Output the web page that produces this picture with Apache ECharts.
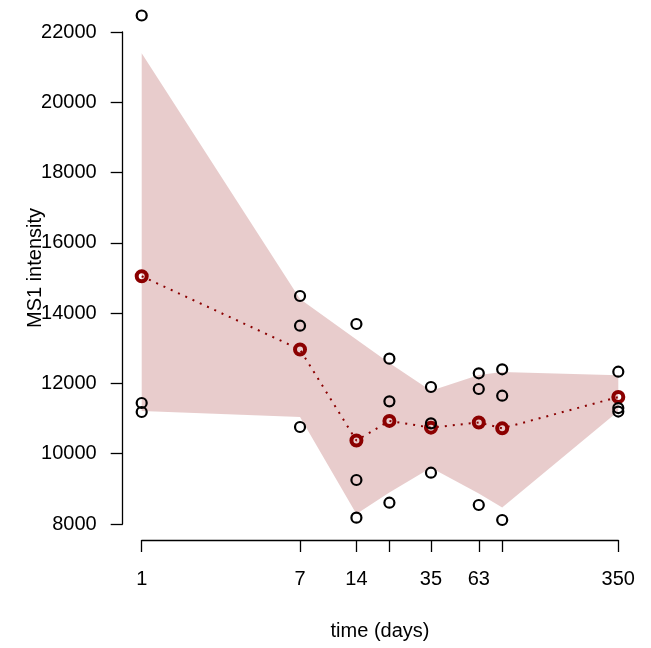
<!DOCTYPE html>
<html>
<head>
<meta charset="utf-8">
<script src="https://cdn.jsdelivr.net/npm/echarts@6/dist/echarts.min.js"></script>
<style>
html,body{margin:0;padding:0;background:#fff;}
#chart{width:651px;height:648px;}
</style>
</head>
<body>
<div id="chart"></div>
<script>
// time points (days)
const days = [1, 7, 14, 21, 35, 63, 84, 350];
// replicate measurements
const rep1 = [22470, 14488, 13691, 12704, 11898, 12288, 12402, 12334];
const rep2 = [11443, 13643, 9252, 11491, 10865, 11841, 11651, 11300];
const rep3 = [11187, 10760, 8180, 8606, 9460, 8541, 8114, 11200];
// mean per time point
const meanVals = [15050, 12964, 10374, 10934, 10741, 10890, 10722, 11613];
// band (upper / lower)
const bandUpper = [21394, 14404, 13247, 12583, 11795, 12243, 12327, 12236];
const bandLower = [11215, 11048, 8287, 8895, 9600, 8871, 8468, 11210];
// axis ticks
const xTickValues = [1, 7, 14, 21, 35, 63, 84, 350];
const xLabelValues = [1, 7, 14, 35, 63, 350];
const yMin = 8000, yMax = 22000, yStep = 2000;

const FONT = 'Liberation Sans, Arial, sans-serif';
const FS = 20;
const chart = echarts.init(document.getElementById('chart'), null, {renderer: 'canvas'});

const repPoints = [];
[rep1, rep2, rep3].forEach(r => r.forEach((v, i) => repPoints.push([days[i], v])));

const option = {
  animation: false,
  backgroundColor: '#fff',
  grid: {left: 141.7, right: 32.7, top: 32, bottom: 124, containLabel: false},
  xAxis: {
    type: 'log', logBase: 10, min: 1, max: 350,
    offset: 16,
    axisLine: {show: true, lineStyle: {color: '#000', width: 1.3}},
    axisTick: {show: true, length: 12, lineStyle: {color: '#000', width: 1.3}, customValues: xTickValues},
    axisLabel: {show: true, margin: 29, color: '#000', fontSize: FS, fontFamily: FONT, customValues: xLabelValues,
      formatter: v => String(Math.round(v))},
    splitLine: {show: false},
    minorTick: {show: false}
  },
  yAxis: {
    type: 'value', min: yMin, max: yMax, interval: yStep,
    offset: 19,
    axisLine: {show: true, lineStyle: {color: '#000', width: 1.3}},
    axisTick: {show: true, length: 12, lineStyle: {color: '#000', width: 1.3}},
    axisLabel: {show: true, margin: 26, color: '#000', fontSize: FS, fontFamily: FONT,
      formatter: v => String(Math.round(v))},
    splitLine: {show: false}
  },
  graphic: [
    {type: 'text', style: {text: 'time (days)', fill: '#000', font: FS + 'px ' + FONT, textAlign: 'center', textVerticalAlign: 'middle'}, x: 380, y: 631},
    {type: 'text', style: {text: 'MS1 intensity', fill: '#000', font: FS + 'px ' + FONT, textAlign: 'center', textVerticalAlign: 'middle'}, x: 35, y: 268, rotation: Math.PI / 2}
  ],
  series: [
    {
      type: 'custom',
      clip: false,
      silent: true,
      z: 1,
      data: [0],
      renderItem: function (params, api) {
        const pts = [];
        for (let i = 0; i < days.length; i++) pts.push(api.coord([days[i], bandUpper[i]]));
        for (let i = days.length - 1; i >= 0; i--) pts.push(api.coord([days[i], bandLower[i]]));
        return {type: 'polygon', shape: {points: pts}, style: {fill: 'rgba(139,0,0,0.2)', stroke: 'none'}};
      }
    },
    {
      type: 'line',
      z: 2,
      clip: false,
      data: days.map((d, i) => [d, meanVals[i]]),
      symbol: 'circle',
      symbolSize: 10,
      showSymbol: true,
      lineStyle: {color: '#8B0000', width: 2, type: [2, 6]},
      itemStyle: {color: 'rgba(0,0,0,0)', borderColor: '#8B0000', borderWidth: 4},
      emphasis: {disabled: true}
    },
    {
      type: 'scatter',
      z: 3,
      clip: false,
      data: repPoints,
      symbol: 'circle',
      symbolSize: 10,
      itemStyle: {color: 'rgba(0,0,0,0)', borderColor: '#000', borderWidth: 2.2, opacity: 1},
      emphasis: {disabled: true}
    }
  ]
};
chart.setOption(option);
</script>
</body>
</html>
